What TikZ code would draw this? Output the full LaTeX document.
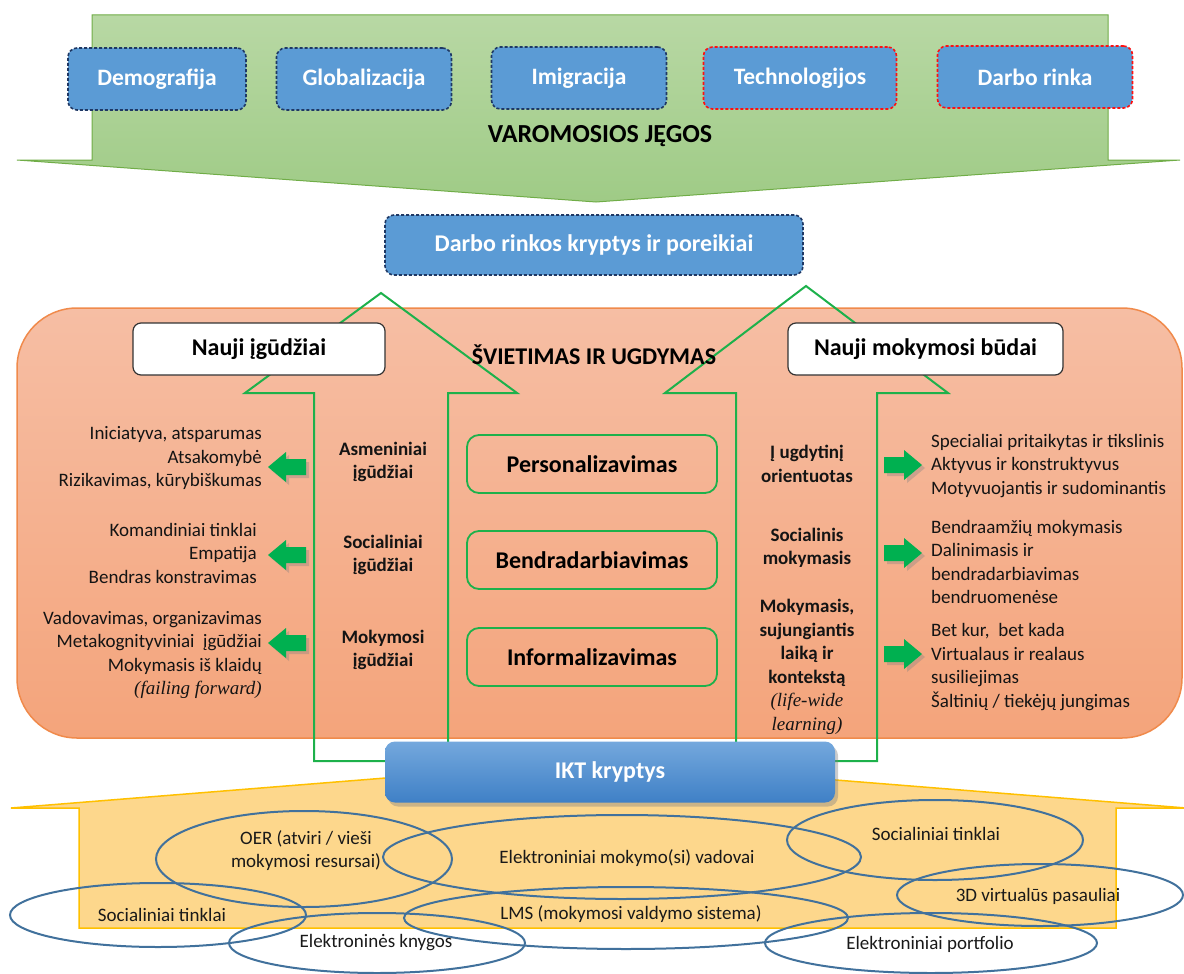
\documentclass[tikz,border=0pt]{standalone}
\usepackage{fontspec}
\setmainfont{Carlito}
\newfontfamily\tnr{Liberation Serif}
\usetikzlibrary{shadows}
\definecolor{boxblue}{HTML}{5B9BD5}
\definecolor{navy}{HTML}{1F3864}
\definecolor{redb}{HTML}{FF1010}
\definecolor{topgreenA}{HTML}{B8D8A4}
\definecolor{topgreenB}{HTML}{9FCB86}
\definecolor{topgreenE}{HTML}{70AD47}
\definecolor{orA}{HTML}{F6BEA4}
\definecolor{orB}{HTML}{F4A47B}
\definecolor{orE}{HTML}{F08A4B}
\definecolor{gline}{HTML}{1DB14B}
\definecolor{garrow}{HTML}{00B050}
\definecolor{yfill}{HTML}{FDD78C}
\definecolor{yedge}{HTML}{FFC000}
\definecolor{ell}{HTML}{41719C}
\definecolor{iktA}{HTML}{74A8DD}
\definecolor{iktB}{HTML}{3F80C6}
\tikzset{
  topbox/.style={draw=navy, dash pattern=on 3pt off 2pt, line width=1.6pt, fill=boxblue,
    rounded corners=9pt, minimum height=62pt, text=white, inner sep=0pt,
    font=\bfseries\fontsize{23.5}{27}\selectfont},
  redbox/.style={topbox, draw=redb},
  whitebox/.style={draw=black!80, line width=1.2pt, fill=white, rounded corners=8pt,
    minimum width=252pt, minimum height=52pt, inner sep=0pt,
    font=\bfseries\fontsize{24}{28}\selectfont},
  midbox/.style={draw=gline, line width=1.8pt, rounded corners=12pt,
    minimum width=250pt, minimum height=58pt, inner sep=0pt,
    font=\bfseries\fontsize{24}{28}\selectfont},
  heading/.style={font=\bfseries\fontsize{24}{28}\selectfont, inner sep=0pt},
  body/.style={font=\fontsize{19}{23.5}\selectfont, inner sep=0pt, text=black!92},
  lab/.style={font=\bfseries\fontsize{19}{23.5}\selectfont, inner sep=0pt, align=center, text=black!92},
  elltext/.style={font=\fontsize{19}{23}\selectfont, inner sep=0pt, align=center, text=black!90},
  ellipsestyle/.style={draw=ell, line width=2pt},
  outarrow/.style={draw=gline, line width=2pt},
  larrow/.pic={\fill[garrow, drop shadow={opacity=0.35, shadow xshift=3pt, shadow yshift=-3pt}]
    (0,0) -- (18,-15) -- (18,-8) -- (38,-8) -- (38,8) -- (18,8) -- (18,15) -- cycle;},
  rarrow/.pic={\fill[garrow, drop shadow={opacity=0.35, shadow xshift=3pt, shadow yshift=-3pt}]
    (0,0) -- (-18,-15) -- (-18,-8) -- (-38,-8) -- (-38,8) -- (-18,8) -- (-18,15) -- cycle;}
}
\begin{document}
\begin{tikzpicture}[x=1pt,y=-1pt]
\useasboundingbox (0,0) rectangle (1184,974);
\clip (0,0) rectangle (1184,974);

% top green arrow
\shade[top color=topgreenA, bottom color=topgreenB] (92,15) -- (1108,15) -- (1108,160) -- (1180,160) -- (596,202) -- (17,160) -- (92,160) -- cycle;
\draw[topgreenE, line width=1pt] (92,15) -- (1108,15) -- (1108,160) -- (1180,160) -- (596,202) -- (17,160) -- (92,160) -- cycle;

\node[topbox, minimum width=178pt] (demo) at (157,79) {Demografija};
\node[topbox, minimum width=175pt] (glob) at (364,79) {Globalizacija};
\node[topbox, minimum width=175pt] (imig) at (579,78) {Imigracija};
\node[redbox, minimum width=193pt] (tech) at (800,78) {Technologijos};
\node[redbox, minimum width=195pt] (darb) at (1035,77) {Darbo rinka};
\node[heading, font=\bfseries\fontsize{26}{30}\selectfont] (varo) at (600,136) {VAROMOSIOS JĘGOS};

\node[topbox, minimum width=418pt, minimum height=60pt, font=\bfseries\fontsize{24}{28}\selectfont] (poreik) at (594,245) {Darbo rinkos kryptys ir poreikiai};

% orange area
\shade[top color=orA, bottom color=orB, rounded corners=60pt] (17,308) rectangle (1182,738);
\draw[orE, line width=1.5pt, rounded corners=60pt] (17,308) rectangle (1182,738);

% green outline arrows
\draw[outarrow] (381,293) -- (517,393) -- (448,393) -- (448,761) -- (314,761) -- (314,393) -- (245,393) -- cycle;
\draw[outarrow] (806,286) -- (948,393) -- (877,393) -- (877,761) -- (736,761) -- (736,393) -- (665,393) -- cycle;

\node[whitebox] (nig) at (259,349) {Nauji įgūdžiai};
\node[whitebox, minimum width=275pt] (nmb) at (925.5,349) {Nauji mokymosi būdai};
\node[heading] (svi) at (594,355) {ŠVIETIMAS IR UGDYMAS};

\node[midbox] (pers) at (592,464) {Personalizavimas};
\node[midbox] (bend) at (592,560) {Bendradarbiavimas};
\node[midbox] (info) at (592,657) {Informalizavimas};

% left texts
\node[body, align=right, anchor=east] (l1) at (262,458) {Iniciatyva, atsparumas\\Atsakomybė\\Rizikavimas, kūrybiškumas};
\node[body, align=right, anchor=east] (l2) at (257,553) {Komandiniai tinklai\\Empatija\\Bendras konstravimas};
\node[body, align=right, anchor=east] (l3) at (262,655) {Vadovavimas, organizavimas\\Metakognityviniai\ \ įgūdžiai\\Mokymasis iš klaidų\\{\tnr\itshape (failing forward)}};

\pic at (268,467) {larrow};
\pic at (268,555) {larrow};
\pic at (268,643) {larrow};

\node[lab] (m1) at (383,462) {Asmeniniai\\įgūdžiai};
\node[lab] (m2) at (383,555) {Socialiniai\\įgūdžiai};
\node[lab] (m3) at (383,650) {Mokymosi\\įgūdžiai};

\node[lab] (n1) at (807,464) {Į ugdytinį\\orientuotas};
\node[lab] (n2) at (807,548) {Socialinis\\mokymasis};
\node[lab] (n3) at (807,667) {Mokymasis,\\sujungiantis\\laiką ir\\kontekstą\\{\tnr\mdseries\itshape (life-wide}\\{\tnr\mdseries\itshape learning)}};

\pic at (922,465) {rarrow};
\pic at (922,553) {rarrow};
\pic at (922,654) {rarrow};

\node[body, align=left, anchor=west] (r1) at (931,466) {Specialiai pritaikytas ir tikslinis\\Aktyvus ir konstruktyvus\\Motyvuojantis ir sudominantis};
\node[body, align=left, anchor=west] (r2) at (931,562) {Bendraamžių mokymasis\\Dalinimasis ir\\bendradarbiavimas\\bendruomenėse};
\node[body, align=left, anchor=west] (r3) at (931,667) {Bet kur,\ \ bet kada\\Virtualaus ir realaus\\susiliejimas\\Šaltinių / tiekėjų jungimas};

% yellow house
\filldraw[fill=yfill, draw=yedge, line width=1.5pt] (598,761) -- (1186,808) -- (1116,808) -- (1116,928) -- (79,928) -- (79,808) -- (11,808) -- cycle;

\node[draw=none, top color=iktA, bottom color=iktB, rounded corners=10pt, minimum width=450pt, minimum height=61pt,
  drop shadow={opacity=0.4, shadow xshift=3pt, shadow yshift=-4pt}, text=white, inner sep=0pt,
  font=\bfseries\fontsize{24}{28}\selectfont] (ikt) at (610,772) {IKT kryptys};

% ellipses
\draw[ellipsestyle] (304,859) ellipse [x radius=148, y radius=48];
\draw[ellipsestyle] (622,857) ellipse [x radius=239, y radius=42];
\draw[ellipsestyle] (935,840) ellipse [x radius=148, y radius=40];
\draw[ellipsestyle] (1040,895) ellipse [x radius=143, y radius=31];
\draw[ellipsestyle] (158,915) ellipse [x radius=148, y radius=32];
\draw[ellipsestyle] (377,943) ellipse [x radius=148, y radius=30];
\draw[ellipsestyle] (626,918) ellipse [x radius=222, y radius=31];
\draw[ellipsestyle] (931,943) ellipse [x radius=166, y radius=30];

\node[elltext] (oer) at (306,851) {OER (atviri / vieši\\mokymosi resursai)};
\node[elltext] (evad) at (627,858) {Elektroniniai mokymo(si) vadovai};
\node[elltext] (soc1) at (936,834) {Socialiniai tinklai};
\node[elltext] (vr) at (1038,896) {3D virtualūs pasauliai};
\node[elltext] (soc2) at (162,915) {Socialiniai tinklai};
\node[elltext] (lms) at (631,914) {LMS (mokymosi valdymo sistema)};
\node[elltext] (ekn) at (376,943) {Elektroninės knygos};
\node[elltext] (port) at (930,944) {Elektroniniai portfolio};
\end{tikzpicture}
\end{document}
